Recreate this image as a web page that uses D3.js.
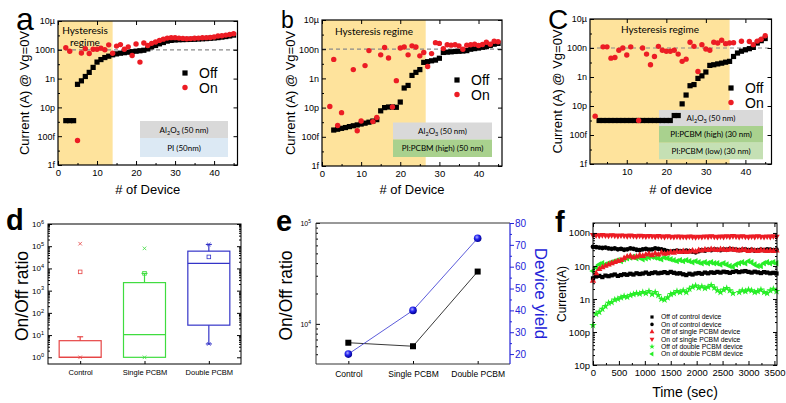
<!DOCTYPE html>
<html>
<head>
<meta charset="utf-8">
<script src="https://cdn.jsdelivr.net/npm/d3@7"></script>
<style>
  body { margin: 0; background: #fff; }
  text { white-space: pre; }
</style>
</head>
<body>
<svg id="fig" width="786" height="403"></svg>
<script>
// ---------- data ----------
var currentTicks = [1e-15, 1e-13, 1e-11, 1e-9, 1e-7, 1e-5];
var currentTickLabels = ["1f", "100f", "10p", "1n", "100n", "10µ"];
var currentMinor = [1e-14, 1e-12, 1e-10, 1e-8, 1e-6];

// panel a
var aOffDevice = [2,3,4,5,6,7,8,9,10,11,12,13,14,15,16,17,18,19,20,21,22,23,24,25,26,27,28,29,30,31,32,33,34,35,36,37,38,39,40,41,42,43,44,45];
var aOff = [1.2e-12,1.2e-12,1.2e-12,4e-10,7e-10,1.4e-9,2.7e-9,6e-9,1.4e-8,2.1e-8,2.9e-8,3.6e-8,4.5e-8,5.2e-8,5.8e-8,6.3e-8,6.8e-8,7.4e-8,8e-8,8.6e-8,9.3e-8,1.15e-7,1.6e-7,2e-7,2.6e-7,3.2e-7,4e-7,4.5e-7,4.8e-7,5e-7,5.1e-7,5.2e-7,5.3e-7,5.4e-7,5.6e-7,5.8e-7,6e-7,6.3e-7,6.6e-7,7e-7,7.6e-7,8.3e-7,9.2e-7,1.05e-6];
var aOnDevice = [2,3,5,6,7,8,9,10,11,12,13,14,15,16,17,18,19,20,21,22,23,24,25,26,27,28,29,30,31,32,33,34,35,36,37,38,39,40,41,42,43,44,45];
var aOn = [1.4e-7,8e-8,5e-14,6e-8,1.2e-7,5.5e-8,1.1e-7,1.1e-7,1.3e-7,1e-7,2.2e-7,5.8e-8,1.8e-7,2.3e-7,1.1e-7,1.6e-7,4e-8,2.5e-7,1.4e-8,3e-7,2e-7,2.8e-7,3.5e-7,4.5e-7,5.5e-7,6.5e-7,7e-7,7e-7,6.5e-7,6.2e-7,5.8e-7,6e-7,6.3e-7,6.5e-7,6.8e-7,7e-7,7.2e-7,7.8e-7,9e-7,9.5e-7,1.05e-6,1.15e-6,1.3e-6];

// panel b
var bOffDevice = [3,4,5,6,7,8,9,10,11,12,13,14,15,16,17,18,19,20,21,22,23,24,25,26,27,28,29,30,31,32,33,34,35,36,37,38,39,40,41,42,43,44,45];
var bOff = [2.9e-13,3.3e-13,3.8e-13,4.3e-13,5e-13,5.7e-13,6.5e-13,7.5e-13,8.6e-13,1e-12,1.2e-12,1.5e-12,6e-12,1e-11,1.1e-11,1.1e-11,1.05e-11,2.4e-11,2.2e-10,3.3e-10,1.6e-9,2.6e-9,4e-9,1.25e-8,1.4e-8,1.6e-8,1.8e-8,2.4e-8,6e-8,6.3e-8,6.6e-8,7e-8,7.2e-8,7.5e-8,8e-8,1e-7,1.1e-7,1.2e-7,1.35e-7,1.5e-7,1.8e-7,2.2e-7,2.5e-7];
var bOnDevice = [2,3,4,5,8,9,10,11,12,13,14,15,16,17,18,19,20,21,22,23,24,25,26,27,28,29,30,31,32,33,34,35,36,37,38,39,40,41,42,43,44,45];
var bOn = [1.2e-11,2e-8,6e-13,4.5e-12,4e-9,2.6e-13,1.2e-12,7.5e-9,8e-8,1.1e-12,2.1e-12,4.1e-8,1.3e-7,2.5e-8,1.1e-11,7e-10,1.2e-7,1.4e-7,4.1e-8,1.7e-7,1.4e-7,3.5e-8,6e-8,6.5e-9,5e-8,2.8e-7,2.5e-7,1.1e-7,2e-7,1.9e-7,2e-7,1.7e-7,1e-7,1.9e-7,2e-7,2.2e-7,1.8e-7,2.1e-7,3e-7,2.2e-7,3.5e-7,3.2e-7];

// panel c
var cOffDevice = [3,4,5,6,7,8,9,10,11,12,13,14,15,16,17,18,19,20,21,22,23,24,25,26,27,28,29,30,31,32,33,34,35,36,37,38,39,40,41,42,43,44,45];
var cOff = [1e-12,1e-12,1e-12,1e-12,1e-12,1e-12,1e-12,1e-12,1e-12,1e-12,1e-12,1e-12,1e-12,1e-12,1e-12,1e-12,1e-12,1e-12,1e-12,2.2e-12,2.2e-12,1.4e-11,5.7e-11,2.5e-10,3e-10,8e-10,1.2e-9,2.2e-9,6.3e-9,7e-9,8e-9,9e-9,1.05e-8,1.2e-8,2.6e-8,4.5e-8,6e-8,7.5e-8,9e-8,1.1e-7,2.2e-7,3.2e-7,4.5e-7];
var cOnDevice = [2,4,5,6,7,8,9,10,11,13,14,15,16,17,18,19,20,21,22,23,24,25,26,27,28,29,30,31,32,33,34,35,36,37,39,41,42,43,44,45];
var cOn = [2e-12,1.2e-7,1.2e-7,2e-8,2.2e-8,7e-8,1e-7,3.3e-8,1.2e-7,1e-12,1e-7,3.8e-8,7e-9,2.6e-8,1.3e-7,7e-8,6e-8,6e-8,7e-8,3.8e-8,1.2e-8,1.7e-8,2.5e-7,1.3e-7,2.4e-9,1.7e-7,8.5e-8,7e-8,2.5e-7,2.2e-7,3.4e-7,2e-7,2.2e-7,2.3e-7,2.9e-7,2.8e-7,1.7e-7,3e-7,4e-7,7e-7];

var aLayers = ["Al_2O_3 (50 nm)", "PI (50nm)"];
var bLayers = ["Al_2O_3 (50 nm)", "PI:PCBM (high) (50 nm)"];
var cLayers = ["Al_2O_3 (50 nm)", "PI:PCBM (high) (30 nm)", "PI:PCBM (low) (30 nm)"];

// panel d (box plot of On/Off ratio)
var dCats = ["Control", "Single PCBM", "Double PCBM"];
var dQ1 = [1, 1, 28];
var dMedian = [1, 10.5, 1.7e4];
var dQ3 = [5.6, 2300, 6e4];
var dWhiskLo = [1, 1, 4];
var dWhiskHi = [8.4, 6000, 1.2e5];
var dMean = [7000, 6000, 3.3e4];
var dMax = [1.3e5, 8e4, 1.2e5];
var dMin = [1, 1, 4];
var dTicks = [1, 10, 100, 1e3, 1e4, 1e5, 1e6];
var dTickLabels = ["10^0", "10^1", "10^2", "10^3", "10^4", "10^5", "10^6"];

// panel e
var eCats = ["Control", "Single PCBM", "Double PCBM"];
var eRatio = [6500, 6000, 3.3e4];
var eYield = [20, 40, 73];
var eYieldTicks = [20, 30, 40, 50, 60, 70, 80];

// panel f (current vs time, nA), sampled every 60 s
var fTime = d3.range(0, 3600, 60);
var fOffControl = [4.2,4.8,5.0,4.6,5.1,4.9,5.2,5.5,5.0,5.3,5.6,5.4,5.8,5.5,6.0,5.7,5.9,6.3,5.8,6.1,6.4,6.0,6.2,6.5,6.1,6.6,6.2,5.9,6.0,5.6,5.3,5.8,5.5,5.9,6.1,5.8,6.3,6.0,6.4,6.2,6.6,6.3,6.7,6.5,6.2,6.6,6.9,6.5,6.8,7.0,6.6,6.3,6.7,6.4,6.1,6.5,6.3,6.0,6.2,5.9];
var fOnControl = [38,37,36,35,36,34,33,34,32,33,31,32,34,33,31,30,32,33,31,32,34,33,32,30,28,27,28,29,28,27,29,28,27,26,28,30,29,31,30,32,31,30,32,31,33,32,31,30,31,32,30,31,29,30,31,30,32,31,30,31];
var fOffSingle = [3.5,6,8,9,10,11,12,13,14,15,17,19,20,18,19,21,20,22,23,21,24,22,25,23,24,26,25,27,26,28,26,27,29,27,30,29,31,30,32,31,30,32,31,30,32,31,30,29,31,30,28,30,29,28,30,29,28,29,28,29];
var fOnSingle = [88,86,84,87,85,83,86,84,82,85,83,81,84,82,80,83,81,79,82,80,78,81,79,77,80,78,76,79,77,78,76,79,77,75,78,76,79,77,80,78,76,79,77,80,78,81,79,77,80,78,76,79,77,80,78,76,79,77,80,78];
var fOffDouble = [0.16,0.35,0.4,0.5,0.6,0.75,0.8,0.95,1.0,1.1,1.2,1.15,1.3,1.4,1.5,1.45,1.6,1.5,1.7,1.4,1.6,1.3,1.0,0.95,1.1,1.4,1.5,1.7,1.6,1.8,1.6,2.0,2.3,2.5,2.2,2.4,2.1,2.3,2.6,2.2,1.8,1.6,1.9,2.1,1.8,1.5,null,1.6,1.8,1.7,1.9,1.8,1.6,1.7,1.9,1.6,1.5,1.8,2.0,1.7];
var fOnDouble = [7,9,11,12,11,12,13,14,15,14,16,17,18,19,17,18,16,17,18,19,18,17,16,18,17,16,15,14,15,14,15,14,13,14,13,12,13,12,13,12,12,11,12,11,10,9.5,11,12,13,12,14,13,11,10,10,12,13,12,13,12];
var fLegend = ["Off of control device", "On of control device", "Off of single PCBM device",
               "On of single PCBM device", "Off of double PCBM device", "On of double PCBM device"];
var fTicks = [1e-11, 1e-10, 1e-9, 1e-8, 1e-7];
var fTickLabels = ["10p", "100p", "1n", "10n", "100n"];
var fTimeTicks = [0, 500, 1000, 1500, 2000, 2500, 3000, 3500];

// ---------- drawing ----------
var svg = d3.select("#fig");
var FONT = '"Liberation Sans", Arial, sans-serif';
var GILL = 'Lato, "Open Sans", sans-serif';
var RED = "#ec1c24";

// text with _x subscripts and ^x superscripts
function rich(sel, str, fs) {
  var parts = [], m, re = /([_^])(\{[^}]*\}|[^ ])|([^_^]+)/g;
  while ((m = re.exec(str))) {
    if (m[3]) parts.push({t: m[3], off: 0});
    else parts.push({t: m[2].replace(/[{}]/g, ""), off: m[1] == "_" ? 0.25 * fs : -0.4 * fs});
  }
  var cur = 0;
  parts.forEach(function(p) {
    var ts = sel.append("tspan").text(p.t).attr("dy", p.off - cur);
    if (p.off) ts.attr("font-size", fs * 0.7);
    cur = p.off;
  });
}

function styleAxis(g, fs) {
  g.select(".domain").remove();
  g.selectAll("text").attr("font-size", fs).attr("font-family", FONT).attr("fill", "#000");
  g.selectAll("line").attr("stroke", "#000");
}

function currentPanel(o) {
  var x = d3.scaleLinear().domain(o.xDomain).range([o.left, o.right]);
  var y = d3.scaleLog().domain([1e-15, 1e-5]).range([o.bottom, o.top]);
  var g = svg.append("g");

  g.append("rect").attr("x", o.left).attr("y", o.top)
    .attr("width", x(o.hyst) - o.left).attr("height", o.bottom - o.top)
    .attr("fill", "#fee39c");
  o.hystText.forEach(function(t, i) {
    g.append("text").attr("x", o.hystPos[0]).attr("y", o.hystPos[1] + i * 11.5)
      .attr("text-anchor", "middle").attr("font-size", 10).attr("font-family", GILL)
      .text(t);
  });

  // layer stack
  var ly = o.stack.y;
  o.stack.labels.forEach(function(lab, i) {
    var h = o.stack.h[i];
    g.append("rect").attr("x", o.stack.x0).attr("y", ly)
      .attr("width", o.stack.x1 - o.stack.x0).attr("height", h)
      .attr("fill", o.stack.colors[i]);
    var t = g.append("text").attr("x", (o.stack.x0 + o.stack.x1) / 2).attr("y", ly + h / 2 + 3)
      .attr("text-anchor", "middle").attr("font-size", 8).attr("font-family", GILL);
    rich(t, lab, 8);
    ly += h;
  });

  g.append("line").attr("x1", o.left).attr("x2", o.right)
    .attr("y1", y(1e-7)).attr("y2", y(1e-7))
    .attr("stroke", "#8a8a8a").attr("stroke-width", 1.2).attr("stroke-dasharray", "4,3");

  g.selectAll(null).data(d3.zip(o.offX, o.off)).enter().append("rect")
    .attr("x", function(d) { return x(d[0]) - 2.6; })
    .attr("y", function(d) { return y(d[1]) - 2.6; })
    .attr("width", 5.2).attr("height", 5.2).attr("fill", "#000");
  g.selectAll(null).data(d3.zip(o.onX, o.on)).enter().append("circle")
    .attr("cx", function(d) { return x(d[0]); })
    .attr("cy", function(d) { return y(d[1]); })
    .attr("r", 2.7).attr("fill", RED);

  // legend
  g.append("rect").attr("x", o.legend[0] - 2.6).attr("y", o.legend[1] - 2.6)
    .attr("width", 5.2).attr("height", 5.2).attr("fill", "#000");
  g.append("circle").attr("cx", o.legend[0]).attr("cy", o.legend[1] + 14.5).attr("r", 2.7).attr("fill", RED);
  ["Off", "On"].forEach(function(t, i) {
    g.append("text").attr("x", o.legend[0] + 14).attr("y", o.legend[1] + 5 + i * 14.5)
      .attr("font-size", 14).attr("font-family", FONT).text(t);
  });

  // axes (inward ticks, mirrored)
  var yl = g.append("g").attr("transform", "translate(" + o.left + ",0)")
    .call(d3.axisLeft(y).tickValues(currentTicks)
      .tickFormat(function(d, i) { return currentTickLabels[i]; }).tickSize(-4).tickPadding(3));
  styleAxis(yl, 9);
  var ym = g.append("g").attr("transform", "translate(" + o.left + ",0)")
    .call(d3.axisLeft(y).tickValues(currentMinor).tickFormat("").tickSize(-2));
  styleAxis(ym, 9);
  var yr = g.append("g").attr("transform", "translate(" + o.right + ",0)")
    .call(d3.axisRight(y).tickValues(currentTicks).tickFormat("").tickSize(-4));
  styleAxis(yr, 9);
  var xb = g.append("g").attr("transform", "translate(0," + o.bottom + ")")
    .call(d3.axisBottom(x).tickValues(o.xTicks).tickSize(-4).tickPadding(4));
  styleAxis(xb, 9.5);
  var xm = g.append("g").attr("transform", "translate(0," + o.bottom + ")")
    .call(d3.axisBottom(x).tickValues(o.xMinor).tickFormat("").tickSize(-2));
  styleAxis(xm, 9);
  var xt = g.append("g").attr("transform", "translate(0," + o.top + ")")
    .call(d3.axisTop(x).tickValues(o.xTicks).tickFormat("").tickSize(-4));
  styleAxis(xt, 9);

  g.append("rect").attr("x", o.left).attr("y", o.top)
    .attr("width", o.right - o.left).attr("height", o.bottom - o.top)
    .attr("fill", "none").attr("stroke", "#000").attr("stroke-width", 1.2);

  g.append("text").attr("transform", "translate(" + o.yTitleX + "," + ((o.top + o.bottom) / 2) + ") rotate(-90)")
    .attr("text-anchor", "middle").attr("font-size", 13).attr("font-family", FONT)
    .text("Current (A) @ Vg=0V");
  g.append("text").attr("x", (o.left + o.right) / 2).attr("y", 194)
    .attr("text-anchor", "middle").attr("font-size", 13).attr("font-family", FONT)
    .text(o.xTitle);
  g.append("text").attr("x", o.letter[0]).attr("y", o.letter[1])
    .attr("font-size", o.letter[2]).attr("font-family", FONT).text(o.letter[3]);
}

currentPanel({
  left: 58, right: 237.5, top: 21, bottom: 165, xDomain: [0, 46], hyst: 14,
  xTicks: [0, 10, 20, 30, 40], xMinor: [5, 15, 25, 35, 45],
  offX: aOffDevice, off: aOff, onX: aOnDevice, on: aOn,
  hystText: ["Hysteresis", "regime"], hystPos: [85, 34],
  stack: {x0: 140, x1: 228, y: 121, h: [17, 19], labels: aLayers, colors: ["#d9d9d9", "#dce9f4"]},
  legend: [185, 73], yTitleX: 29, xTitle: "# of Device", letter: [16, 30, 32, "a"]
});
currentPanel({
  left: 322, right: 502, top: 20, bottom: 166, xDomain: [0, 46], hyst: 26.5,
  xTicks: [0, 10, 20, 30, 40], xMinor: [5, 15, 25, 35, 45],
  offX: bOffDevice, off: bOff, onX: bOnDevice, on: bOn,
  hystText: ["Hysteresis regime"], hystPos: [374, 35],
  stack: {x0: 393, x1: 492, y: 122.5, h: [17, 17.5], labels: bLayers, colors: ["#d9d9d9", "#a9d18e"]},
  legend: [457, 80], yTitleX: 295, xTitle: "# of Device", letter: [281, 28, 23, "b"]
});
currentPanel({
  left: 590, right: 771.5, top: 19, bottom: 164, xDomain: [0.7, 46.6], hyst: 36,
  xTicks: [10, 20, 30, 40], xMinor: [5, 15, 25, 35, 45],
  offX: cOffDevice, off: cOff, onX: cOnDevice, on: cOn,
  hystText: ["Hysteresis regime"], hystPos: [660, 33],
  stack: {x0: 659, x1: 763, y: 110, h: [16, 16.7, 16.6], labels: cLayers, colors: ["#d9d9d9", "#a9d18e", "#c5e0b4"]},
  legend: [731, 88], yTitleX: 562, xTitle: "# of device", letter: [548, 29, 28, "C"]
});

// ---- panel d ----
(function() {
  var left = 48, right = 241, top = 224, bottom = 364;
  var x = d3.scalePoint().domain(dCats).range([left, right]).padding(0.5);
  var y = d3.scaleLog().domain([0.5, 1e6]).range([bottom, top]);
  var cols = ["#e64545", "#3fdc3f", "#3434c8"];
  var g = svg.append("g");
  var bw = 42;
  dCats.forEach(function(c, i) {
    var cx = x(c), col = cols[i];
    g.append("line").attr("x1", cx).attr("x2", cx).attr("y1", y(dQ3[i])).attr("y2", y(dWhiskHi[i]))
      .attr("stroke", col).attr("stroke-width", 1.2);
    g.append("line").attr("x1", cx).attr("x2", cx).attr("y1", y(dQ1[i])).attr("y2", y(dWhiskLo[i]))
      .attr("stroke", col).attr("stroke-width", 1.2);
    [dWhiskHi[i], dWhiskLo[i]].forEach(function(v) {
      if (v === dQ1[i]) return;
      g.append("line").attr("x1", cx - 3).attr("x2", cx + 3).attr("y1", y(v)).attr("y2", y(v))
        .attr("stroke", col).attr("stroke-width", 1.2);
    });
    g.append("rect").attr("x", cx - bw / 2).attr("y", y(dQ3[i]))
      .attr("width", bw).attr("height", y(dQ1[i]) - y(dQ3[i]))
      .attr("fill", "none").attr("stroke", col).attr("stroke-width", 1.2);
    g.append("line").attr("x1", cx - bw / 2).attr("x2", cx + bw / 2)
      .attr("y1", y(dMedian[i])).attr("y2", y(dMedian[i])).attr("stroke", col).attr("stroke-width", 1.2);
    g.append("rect").attr("x", cx - 1.8).attr("y", y(dMean[i]) - 1.8).attr("width", 3.6).attr("height", 3.6)
      .attr("fill", "none").attr("stroke", col).attr("stroke-width", 0.8);
    [dMax[i], dMin[i]].forEach(function(v) {
      g.append("path").attr("d", d3.symbol(d3.symbolX, 10)())
        .attr("transform", "translate(" + cx + "," + y(v) + ")")
        .attr("fill", "none").attr("stroke", col).attr("stroke-width", 0.8);
    });
  });
  var minor = [];
  d3.range(0, 6).forEach(function(e) { d3.range(2, 10).forEach(function(k) { minor.push(k * Math.pow(10, e)); }); });
  var yl = g.append("g").attr("transform", "translate(" + left + ",0)")
    .call(d3.axisLeft(y).tickValues(dTicks).tickFormat("").tickSize(-4));
  styleAxis(yl, 8);
  var ym = g.append("g").attr("transform", "translate(" + left + ",0)")
    .call(d3.axisLeft(y).tickValues(minor).tickFormat("").tickSize(-2));
  styleAxis(ym, 8);
  var yr = g.append("g").attr("transform", "translate(" + right + ",0)")
    .call(d3.axisRight(y).tickValues(dTicks).tickFormat("").tickSize(-4));
  styleAxis(yr, 8);
  var yrm = g.append("g").attr("transform", "translate(" + right + ",0)")
    .call(d3.axisRight(y).tickValues(minor).tickFormat("").tickSize(-2));
  styleAxis(yrm, 8);
  dTicks.forEach(function(v, i) {
    var t = g.append("text").attr("x", left - 4).attr("y", y(v) + 3).attr("text-anchor", "end")
      .attr("font-size", 8).attr("font-family", FONT);
    rich(t, dTickLabels[i], 8);
  });
  var xb = g.append("g").attr("transform", "translate(0," + bottom + ")")
    .call(d3.axisBottom(x).tickSize(-3).tickPadding(6));
  styleAxis(xb, 7.5);
  g.append("rect").attr("x", left).attr("y", top).attr("width", right - left).attr("height", bottom - top)
    .attr("fill", "none").attr("stroke", "#000").attr("stroke-width", 1);
  g.append("text").attr("transform", "translate(28," + ((top + bottom) / 2 + 2) + ") rotate(-90)")
    .attr("text-anchor", "middle").attr("font-size", 17.5).attr("font-family", FONT).text("On/Off ratio");
  g.append("text").attr("x", 6).attr("y", 230).attr("font-size", 29).attr("font-family", FONT)
    .attr("font-weight", "bold").text("d");
})();

// ---- panel e ----
(function() {
  var left = 316, right = 510, top = 223, bottom = 364;
  var x = d3.scalePoint().domain(eCats).range([left, right]).padding(0.5);
  var y = d3.scaleLog().domain([4000, 1e5]).range([bottom, top]);
  var y2 = d3.scaleLinear().domain([15, 80]).range([bottom + 1, top]);
  var BLUE = "#2323d8";
  var g = svg.append("g");
  var grad = svg.append("defs").append("radialGradient").attr("id", "ball")
    .attr("cx", "40%").attr("cy", "35%").attr("r", "65%");
  grad.append("stop").attr("offset", "0%").attr("stop-color", "#b0b0ff");
  grad.append("stop").attr("offset", "45%").attr("stop-color", "#2525f0");
  grad.append("stop").attr("offset", "100%").attr("stop-color", "#000090");

  g.append("path").datum(eCats)
    .attr("d", d3.line().x(function(c) { return x(c); }).y(function(c, i) { return y(eRatio[i]); }))
    .attr("fill", "none").attr("stroke", "#222").attr("stroke-width", 0.9);
  g.append("path").datum(eCats)
    .attr("d", d3.line().x(function(c) { return x(c); }).y(function(c, i) { return y2(eYield[i]); }))
    .attr("fill", "none").attr("stroke", "#4a4ad6").attr("stroke-width", 0.9);
  g.selectAll(null).data(eCats).enter().append("rect")
    .attr("x", function(c) { return x(c) - 3; })
    .attr("y", function(c, i) { return y(eRatio[i]) - 3; })
    .attr("width", 6).attr("height", 6).attr("fill", "#000");
  g.selectAll(null).data(eCats).enter().append("circle")
    .attr("cx", function(c) { return x(c); })
    .attr("cy", function(c, i) { return y2(eYield[i]); })
    .attr("r", 3.8).attr("fill", "url(#ball)");

  var minor = [5000, 6000, 7000, 8000, 9000, 2e4, 3e4, 4e4, 5e4, 6e4, 7e4, 8e4, 9e4];
  var yl = g.append("g").attr("transform", "translate(" + left + ",0)")
    .call(d3.axisLeft(y).tickValues([1e4, 1e5]).tickFormat("").tickSize(-4));
  styleAxis(yl, 8);
  var ym = g.append("g").attr("transform", "translate(" + left + ",0)")
    .call(d3.axisLeft(y).tickValues(minor).tickFormat("").tickSize(-2));
  styleAxis(ym, 8);
  ["10^4", "10^5"].forEach(function(s, i) {
    var t = g.append("text").attr("x", left - 5).attr("y", y([1e4, 1e5][i]) + 3)
      .attr("text-anchor", "end").attr("font-size", 7).attr("font-family", FONT);
    rich(t, s, 7);
  });
  var yr = g.append("g").attr("transform", "translate(" + right + ",0)")
    .call(d3.axisRight(y2).tickValues(eYieldTicks).tickSize(4).tickPadding(1));
  yr.select(".domain").remove();
  yr.selectAll("text").attr("font-size", 10).attr("font-family", FONT).attr("fill", BLUE);
  yr.selectAll("line").attr("stroke", BLUE);
  var yrm = g.append("g").attr("transform", "translate(" + right + ",0)")
    .call(d3.axisRight(y2).tickValues([25, 35, 45, 55, 65, 75]).tickFormat("").tickSize(2));
  yrm.select(".domain").remove();
  yrm.selectAll("line").attr("stroke", BLUE);
  var xb = g.append("g").attr("transform", "translate(0," + bottom + ")")
    .call(d3.axisBottom(x).tickSize(-3).tickPadding(7));
  styleAxis(xb, 8.5);
  g.append("path").attr("d", "M" + right + "," + top + "H" + left + "V" + bottom + "H" + right)
    .attr("fill", "none").attr("stroke", "#333").attr("stroke-width", 1);
  g.append("line").attr("x1", right).attr("x2", right).attr("y1", top).attr("y2", bottom)
    .attr("stroke", BLUE).attr("stroke-width", 1.2);
  g.append("text").attr("transform", "translate(292," + ((top + bottom) / 2 + 2) + ") rotate(-90)")
    .attr("text-anchor", "middle").attr("font-size", 17.5).attr("font-family", FONT).text("On/Off ratio");
  g.append("text").attr("transform", "translate(535," + ((top + bottom) / 2) + ") rotate(90)")
    .attr("text-anchor", "middle").attr("font-size", 17).attr("font-family", FONT)
    .attr("fill", BLUE).text("Device yield");
  g.append("text").attr("x", 276).attr("y", 231).attr("font-size", 29).attr("font-family", FONT)
    .attr("font-weight", "bold").text("e");
})();

// ---- panel f ----
(function() {
  var left = 593, right = 777, top = 223, bottom = 365;
  var x = d3.scaleLinear().domain([0, 3550]).range([left, right]);
  var y = d3.scaleLog().domain([1e-11, 2e-7]).range([bottom, top]);
  var GREEN = "#27ee27";
  var series = [
    {v: fOffControl, sym: d3.symbolSquare, rot: 0, col: "#000"},
    {v: fOnControl, sym: d3.symbolCircle, rot: 0, col: "#000"},
    {v: fOffSingle, sym: d3.symbolTriangle, rot: 0, col: RED},
    {v: fOnSingle, sym: d3.symbolTriangle, rot: 180, col: RED},
    {v: fOffDouble, sym: d3.symbolStar, rot: 0, col: GREEN},
    {v: fOnDouble, sym: d3.symbolTriangle, rot: -90, col: GREEN}
  ];
  var g = svg.append("g");
  var plot = [1, 0, 3, 5, 2, 4];
  plot.forEach(function(si) {
    var s = series[si];
    g.selectAll(null).data(fTime.filter(function(t, i) { return s.v[i] != null; })
        .map(function(t) { return [t, s.v[fTime.indexOf(t)]]; }))
      .enter().append("path")
      .attr("d", d3.symbol(s.sym, 18)())
      .attr("transform", function(d) {
        return "translate(" + x(d[0]) + "," + y(d[1] * 1e-9) + ") rotate(" + s.rot + ")";
      })
      .attr("fill", s.col);
  });

  // legend
  fLegend.forEach(function(lab, i) {
    var s = series[i], ly = 317 + i * 7.4;
    g.append("path").attr("d", d3.symbol(s.sym, 10)())
      .attr("transform", "translate(652," + ly + ") rotate(" + s.rot + ")").attr("fill", s.col);
    g.append("text").attr("x", 661).attr("y", ly + 2.3).attr("font-size", 6.8)
      .attr("font-family", FONT).text(lab);
  });

  var minorY = [];
  [-11, -10, -9, -8].forEach(function(e) { d3.range(2, 10).forEach(function(k) { minorY.push(k * Math.pow(10, e)); }); });
  minorY.push(2e-7);
  var yl = g.append("g").attr("transform", "translate(" + left + ",0)")
    .call(d3.axisLeft(y).tickValues(fTicks).tickFormat(function(d, i) { return fTickLabels[i]; })
      .tickSize(-4).tickPadding(3));
  styleAxis(yl, 9.5);
  var ym = g.append("g").attr("transform", "translate(" + left + ",0)")
    .call(d3.axisLeft(y).tickValues(minorY).tickFormat("").tickSize(-2));
  styleAxis(ym, 9);
  var yr = g.append("g").attr("transform", "translate(" + right + ",0)")
    .call(d3.axisRight(y).tickValues(fTicks).tickFormat("").tickSize(-4));
  styleAxis(yr, 9);
  var yrm = g.append("g").attr("transform", "translate(" + right + ",0)")
    .call(d3.axisRight(y).tickValues(minorY).tickFormat("").tickSize(-2));
  styleAxis(yrm, 9);
  var xb = g.append("g").attr("transform", "translate(0," + bottom + ")")
    .call(d3.axisBottom(x).tickValues(fTimeTicks).tickFormat(d3.format("d")).tickSize(-4).tickPadding(4));
  styleAxis(xb, 9.5);
  var xm = g.append("g").attr("transform", "translate(0," + bottom + ")")
    .call(d3.axisBottom(x).tickValues([250, 750, 1250, 1750, 2250, 2750, 3250]).tickFormat("").tickSize(-2));
  styleAxis(xm, 9);
  var xt = g.append("g").attr("transform", "translate(0," + top + ")")
    .call(d3.axisTop(x).tickValues(fTimeTicks).tickFormat("").tickSize(-4));
  styleAxis(xt, 9);
  g.append("rect").attr("x", left).attr("y", top).attr("width", right - left).attr("height", bottom - top)
    .attr("fill", "none").attr("stroke", "#000").attr("stroke-width", 1);
  g.append("text").attr("transform", "translate(566," + ((top + bottom) / 2) + ") rotate(-90)")
    .attr("text-anchor", "middle").attr("font-size", 12).attr("font-family", FONT).text("Current(A)");
  g.append("text").attr("x", (left + right) / 2).attr("y", 397).attr("text-anchor", "middle")
    .attr("font-size", 14).attr("font-family", FONT).text("Time (sec)");
  g.append("text").attr("x", 555).attr("y", 232).attr("font-size", 29).attr("font-family", FONT)
    .attr("font-weight", "bold").text("f");
})();
</script>
</body>
</html>
